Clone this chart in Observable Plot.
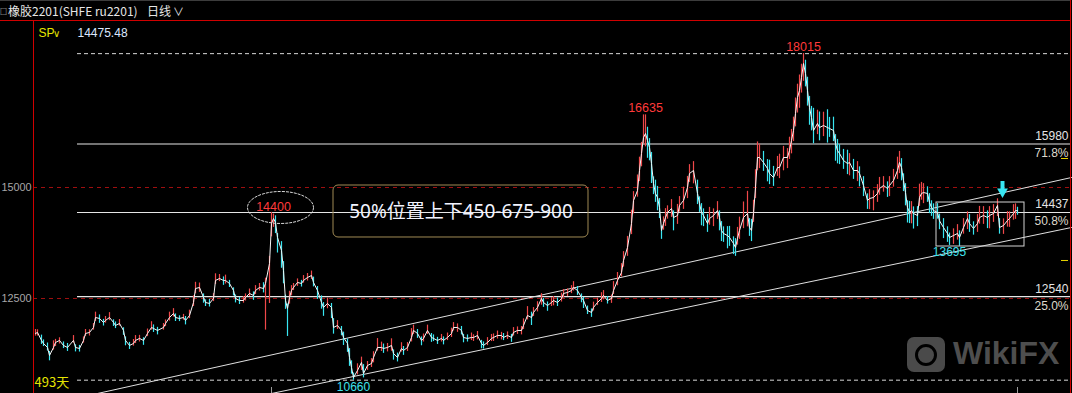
<!DOCTYPE html>
<html><head><meta charset="utf-8">
<script src="https://cdn.jsdelivr.net/npm/d3@7"></script>
<script src="https://cdn.jsdelivr.net/npm/@observablehq/plot@0.6"></script>
<style>
html,body{margin:0;padding:0;background:#000;overflow:hidden;}
#wrap{position:relative;width:1072px;height:393px;background:#000;overflow:hidden;}
.topline{position:absolute;left:0;top:0;width:1070px;height:1px;background:#3c3c3c;}
.hdr{position:absolute;left:0;top:2px;height:18px;line-height:18px;font-family:"Noto Sans CJK SC",sans-serif;font-size:12px;color:#e6e6e6;white-space:nowrap;}
.hdr .bx{position:absolute;left:0;top:0;font-size:7px;}
.hdr .t1{position:absolute;left:8px;top:0;}
.hdr .t2{position:absolute;left:147px;top:0;}
.hdr .chev{font-size:11px;margin-left:2px;}
.redline{position:absolute;left:0;top:20px;width:1070px;height:1px;background:#d00000;}
.rightline{position:absolute;left:1070px;top:0;width:1px;height:393px;background:#d00000;}
#chart{position:absolute;left:0;top:21px;}
.wm{position:absolute;left:907px;top:337px;height:36px;}
.wm .ico{position:absolute;left:0;top:0;width:38px;height:35px;border-radius:7px;background:#4a4a4a;}
.wm .ico .c{position:absolute;left:8px;top:7px;width:16px;height:16px;border:3px solid #000;border-radius:50%;}
.wm .txt{position:absolute;left:46px;top:-4px;font-family:"Liberation Sans",Arial,sans-serif;font-weight:bold;font-size:32px;color:#4e4e4e;line-height:40px;}
</style></head><body>
<div id="wrap">
  <div class="topline"></div>
  <div class="hdr"><span class="bx">□</span><span class="t1">橡胶2201(SHFE ru2201)</span><span class="t2">日线<span class="chev">∨</span></span></div>
  <div class="redline"></div>
  <div id="chart"></div>
  <div class="rightline"></div>
  <div class="wm"><div class="ico"><div class="c"></div></div><div class="txt">WikiFX</div></div>
</div>
<script>
// ---- daily series (trading-day index, close, wick above close, wick below close) ----
const days = [
  0,1,3,4,6,7,9,10,12,14,16,19,20,22,24,25,27,29,30,32,
  34,35,37,39,40,42,44,45,47,49,50,52,54,56,58,59,61,64,65,67,
  69,70,72,74,75,77,79,80,82,84,85,87,89,90,92,94,95,97,99,100,
  102,104,105,107,109,110,112,114,115,117,118,119,120,121,123,124,125,126,127,128,
  129,131,133,134,136,138,139,141,143,144,146,148,149,151,153,154,156,157,158,159,
  161,163,164,166,168,169,171,173,174,176,178,179,181,183,184,186,188,189,191,193,
  194,196,198,199,201,203,204,206,208,209,211,213,214,216,218,219,221,223,224,226,
  228,229,231,233,234,236,238,239,241,243,244,246,248,249,251,253,254,256,258,259,
  261,263,264,266,268,269,271,273,274,276,278,279,281,283,284,286,288,289,291,293,
  294,296,298,299,301,302,303,304,305,306,307,308,309,310,311,312,313,314,
  315,316,318,319,321,322,324,326,327,329,331,332,333,334,336,337,339,341,342,
  343,344,346,347,349,350,351,352,354,356,357,358,359,360,361,362,364,366,367,369,
  371,372,374,376,377,378,379,380,381,382,383,384,385,386,387,388,389,391,
  392,394,396,397,399,400,401,402,404,406,407,409,411,412,414,416,417,419,421,422,
  424,426,427,429,431,432,433,434,435,436,437,438,439,441,442,443,444,446,447,448,
  449,451,452,454,456,457,459,461,462,464,466,467,469,471,472,474,476,477,479,481,
  482,484,486,487,489,490,491
];
const closes = [
  11712,11735,11555,11487,11397,11216,11397,11509,11555,11442,11397,11555,11397,11374,11555,11712,11735,11847,12072,12050,
  11960,12005,12072,11960,11892,11937,11780,11555,11442,11487,11555,11600,11555,11712,11847,11825,11780,11847,11937,12072,
  12162,12072,12050,12072,12005,12117,12410,12725,12748,12523,12410,12388,12500,12906,12950,12906,12906,12838,12680,12500,
  12455,12455,12523,12613,12568,12680,12748,12725,12838,13288,14189,14302,14212,13874,13581,13131,12455,12275,12523,12680,
  12748,12861,12838,12906,12973,13018,12861,12680,12410,12298,12388,12298,11847,11892,11780,11622,11487,11171,10946,10721,
  10879,11059,10811,10991,11036,11171,11397,11397,11374,11397,11442,11262,11171,11374,11329,11397,11622,11780,11712,11555,
  11600,11780,11622,11600,11555,11600,11555,11622,11712,11847,11847,11780,11622,11600,11622,11622,11667,11487,11442,11509,
  11600,11622,11667,11667,11622,11667,11622,11735,11780,11780,11892,12117,12072,12185,12298,12500,12410,12342,12410,12455,
  12410,12500,12613,12635,12680,12748,12680,12523,12455,12230,12185,12298,12410,12500,12568,12455,12500,12680,12906,13086,
  13356,13649,14189,14707,14932,15383,15766,16126,16216,16058,15901,15540,15090,14865,14775,14550,14032,14189,
  14324,14437,14527,14324,14369,14595,14707,15000,15315,15383,14865,14640,14437,14369,14189,14302,14369,14482,14324,
  14032,13964,13919,13874,13739,13649,13852,14032,14324,14414,14099,14032,14414,15000,15676,15676,15563,15428,15315,15225,
  15450,15450,15676,15676,15833,16058,16284,16666,17027,17184,17477,17792,17567,17184,16802,16576,16284,16441,
  16351,16396,16351,16329,16284,15991,15833,15766,15608,15540,15563,15383,15383,15315,15045,14707,14752,14775,14865,14977,
  15045,14977,15045,15158,15383,15563,15450,15158,14887,14550,14437,14482,14414,14369,14775,14865,14887,14865,14662,14550,
  14482,14437,14250,14099,13964,13874,13919,13964,13874,14099,14302,14189,14077,14189,14324,14369,14324,14369,14414,14595,
  14099,14144,14257,14302,14414,14482,14475
];
const wickUp = [
  90,60,120,80,100,90,150,70,60,80,90,110,60,70,80,90,60,90,120,80,
  70,90,110,60,80,90,60,80,70,90,110,70,60,100,130,80,70,90,80,120,
  110,80,60,70,90,120,150,140,100,80,60,90,110,150,90,80,120,70,60,80,
  70,90,80,100,80,110,90,130,120,160,250,100,150,90,200,200,120,100,140,110,
  90,80,70,110,90,100,120,90,150,110,120,90,200,110,90,120,100,200,150,100,
  150,120,200,90,110,130,200,120,100,90,150,80,100,130,90,110,200,120,90,80,
  100,120,90,80,70,90,80,100,120,110,80,90,70,80,100,60,90,70,80,110,
  90,80,100,70,90,80,70,110,80,90,150,200,120,110,130,110,90,80,110,90,
  100,120,90,80,110,130,90,80,70,100,80,120,100,130,110,90,80,200,180,200,
  200,250,300,200,350,300,250,510,420,300,200,250,150,300,250,200,100,150,
  200,150,200,150,250,200,300,250,200,200,300,150,200,150,200,250,150,200,150,
  200,150,200,250,150,200,250,300,350,500,200,250,300,400,350,300,250,200,300,250,
  250,300,250,200,300,250,300,350,300,350,300,225,300,300,250,250,500,300,
  350,300,400,250,300,200,250,200,250,300,200,250,200,150,200,150,200,150,200,250,
  200,150,200,250,300,250,200,150,200,150,250,200,150,200,300,250,200,150,200,150,
  150,200,150,200,150,100,150,200,150,200,150,200,150,200,250,200,150,200,200,150,
  200,150,200,150,200,150,80
];
const wickDown = [
  60,80,90,70,80,120,60,90,80,70,90,60,100,80,60,70,80,60,90,110,
  80,60,70,90,70,60,110,120,90,60,70,80,110,70,60,90,100,60,70,80,
  80,90,70,60,100,70,90,120,110,130,90,80,70,90,70,110,80,90,120,100,
  90,60,80,70,110,90,80,100,1050,900,300,200,250,350,400,300,200,630,150,120,
  70,90,80,60,80,90,100,200,150,200,120,250,150,90,120,180,200,200,150,60,
  100,180,100,110,90,120,80,90,110,100,130,150,100,80,110,90,100,90,110,120,
  80,90,110,70,90,80,100,70,90,80,110,100,120,80,70,90,100,120,80,70,
  70,90,80,100,70,90,110,80,90,100,90,100,180,90,100,150,110,130,90,120,
  90,80,100,90,70,80,110,120,180,90,110,80,70,90,100,80,110,90,120,100,
  150,200,250,300,150,250,300,150,300,400,300,450,250,200,300,250,200,150,
  200,150,200,300,200,150,200,250,200,300,250,200,300,250,200,150,250,200,300,
  250,200,300,200,250,200,150,200,250,300,200,250,200,250,300,250,200,300,250,200,
  200,250,300,250,200,300,250,300,350,400,350,400,300,350,400,300,300,250,
  300,250,350,200,250,400,300,250,200,250,300,200,250,300,250,200,250,300,200,150,
  150,200,250,150,200,250,300,250,300,350,250,300,350,250,200,150,250,200,250,200,
  200,150,200,250,200,179,200,150,200,150,250,200,150,200,150,200,250,300,200,250,
  150,200,150,200,150,200,100
];

// ---- annotation values ----
const redLevels = [15000, 12500];
const axisTicks = [12500, 15000];
const fibLevels = [15980, 14437, 12540];
const fibPercents = ["71.8%", "50.8%", "25.0%"];
const extremeLevels = [18015, 10660];
const fibStartDay = 21;
const peakDays = [119, 305, 384];
const peakValues = [14400, 16635, 18015];
const troughDays = [159, 457];
const troughValues = [10660, 13695];
const upperChannelDays = [31, 518];
const upperChannelPrices = [10360, 15225];
const lowerChannelDays = [118, 518];
const lowerChannelPrices = [10360, 14099];
const boxDays = [450.5, 494.5];
const boxPrices = [13671, 14662];
const noteDays = [149, 276.5];
const notePrices = [13874, 15045];
const noteText = "50%位置上下450-675-900";
const circleDay = 122.5, circlePrice = 14550;
const arrowDay = 483.5, arrowTop = 15135, arrowBottom = 14955, arrowTip = 14905;
const yellowTicks = [15653, 13356];
const dateTicks = [118, 491];
const lastPrice = "14475.48";
const spanLabel = "493天";

const RED = "#f0484a", CYAN = "#38e6f2";
const bars = days.map((d, i) => ({
  day: d, close: closes[i],
  high: closes[i] + wickUp[i], low: closes[i] - wickDown[i],
  rising: i === 0 ? true : closes[i] >= closes[i - 1]
}));
const ok = [closes, wickUp, wickDown].every(a => a.length === days.length);

const ellipseSymbol = {
  draw(ctx) {
    const rx = 33, ry = 16, k = 0.5523;
    ctx.moveTo(rx, 0);
    ctx.bezierCurveTo(rx, ry * k, rx * k, ry, 0, ry);
    ctx.bezierCurveTo(-rx * k, ry, -rx, ry * k, -rx, 0);
    ctx.bezierCurveTo(-rx, -ry * k, -rx * k, -ry, 0, -ry);
    ctx.bezierCurveTo(rx * k, -ry, rx, -ry * k, rx, 0);
    ctx.closePath();
  }
};

const fibRows = fibLevels.map((v, i) => ({v, p: fibPercents[i]}));
const peaks = peakDays.map((d, i) => ({d, v: peakValues[i]}));
const troughs = troughDays.map((d, i) => ({d, v: troughValues[i]}));
const upperLine = upperChannelDays.map((d, i) => ({d, v: upperChannelPrices[i]}));
const lowerLine = lowerChannelDays.map((d, i) => ({d, v: lowerChannelPrices[i]}));

const chart = Plot.plot({
  width: 1072, height: 372,
  marginTop: 0, marginBottom: 0, marginLeft: 33, marginRight: 2,
  x: {domain: [0, 517.5], range: [35, 1070], axis: null},
  y: {domain: [10360, 18739], axis: null},
  style: {background: "#000", color: "#ddd", fontFamily: "'Liberation Sans', Arial, sans-serif", fontSize: "12px"},
  marks: [
    Plot.ruleY(redLevels, {stroke: "#a01010", strokeDasharray: "4,4"}),
    Plot.ruleY(fibLevels, {y: d => d, x1: fibStartDay, x2: 517.5, stroke: "#e6e6e6", strokeWidth: 1.2}),
    Plot.ruleY(extremeLevels, {y: d => d, x1: fibStartDay, x2: 517.5, stroke: "#d8d8d8", strokeDasharray: "4,3"}),
    Plot.line(upperLine, {x: "d", y: "v", stroke: "#e0e0e0", strokeWidth: 1}),
    Plot.line(lowerLine, {x: "d", y: "v", stroke: "#e0e0e0", strokeWidth: 1}),
    Plot.ruleX(bars, {x: "day", y1: "low", y2: "high", stroke: d => d.rising ? RED : CYAN, strokeWidth: 1.2}),
    Plot.line(bars, {x: "day", y: "close", stroke: "#f6f6f6", strokeWidth: 1}),
    Plot.rect([0], {x1: boxDays[0], x2: boxDays[1], y1: boxPrices[0], y2: boxPrices[1], fill: "none", stroke: "#d4d4d4", strokeWidth: 1}),
    Plot.rect([0], {x1: noteDays[0], x2: noteDays[1], y1: notePrices[0], y2: notePrices[1], rx: 5, fill: "none", stroke: "#a08a55", strokeWidth: 1}),
    Plot.text([noteText], {x: (noteDays[0] + noteDays[1]) / 2, y: 14460, fontFamily: "'Noto Sans', 'Noto Sans CJK SC', sans-serif", fontSize: 19, fill: "#f2f4ff"}),
    Plot.dot([0], {x: circleDay, y: circlePrice, symbol: ellipseSymbol, fill: "none", stroke: "#d8d8d8", strokeWidth: 1, strokeDasharray: "3,1"}),
    Plot.text(peaks, {x: "d", y: "v", text: d => String(d.v), dy: -7, fill: "#ff3a3a", fontSize: 12.5}),
    Plot.text(troughs, {x: "d", y: "v", text: d => String(d.v), dy: 7, fill: "#3fe3ee", fontSize: 12}),
    Plot.text(fibRows, {y: "v", text: d => String(d.v), frameAnchor: "right", dx: -2, dy: -8, textAnchor: "end", fill: "#e4e4e4"}),
    Plot.text(fibRows, {y: "v", text: "p", frameAnchor: "right", dx: -2, dy: 9, textAnchor: "end", fill: "#ddd8cc"}),
    Plot.ruleY(yellowTicks, {stroke: "#e6d200", insetLeft: 1028, insetRight: 2}),
    Plot.ruleX([0], {x: arrowDay, y1: arrowBottom, y2: arrowTop, stroke: CYAN, strokeWidth: 4}),
    Plot.dot([0], {x: arrowDay, y: arrowTip, symbol: "triangle", rotate: 180, r: 4, fill: CYAN, stroke: "none"}),
    Plot.ruleX(dateTicks, {stroke: "#9a9a9a", insetTop: 366}),
    Plot.frame({anchor: "left", stroke: "#d00000"}),
    Plot.axisY({ticks: axisTicks, anchor: "left", tickSize: 0, tickPadding: 2, tickFormat: d => String(d), color: "#a8a8a8", fontSize: 10.8}),
    Plot.text(["SP"], {frameAnchor: "top-left", dx: 5, dy: 7, textAnchor: "start", fill: "#e6e600"}),
    Plot.text(["∨"], {frameAnchor: "top-left", dx: 19, dy: 8, textAnchor: "start", fill: "#e6e600", fontSize: 10}),
    Plot.text([lastPrice], {frameAnchor: "top-left", dx: 44, dy: 7, textAnchor: "start", fill: "#dce8ff"}),
    Plot.text([spanLabel], {frameAnchor: "bottom-left", dx: 1, dy: -7, textAnchor: "start", fill: "#e6e600", fontSize: 13, fontFamily: "'Noto Sans CJK SC', sans-serif"}),
    ...(ok ? [] : [Plot.text(["LENGTH MISMATCH " + [days.length, closes.length, wickUp.length, wickDown.length].join(",")], {frameAnchor: "middle", fill: "yellow", fontSize: 20})])
  ]
});
document.getElementById("chart").appendChild(chart);
</script>
</body></html>
